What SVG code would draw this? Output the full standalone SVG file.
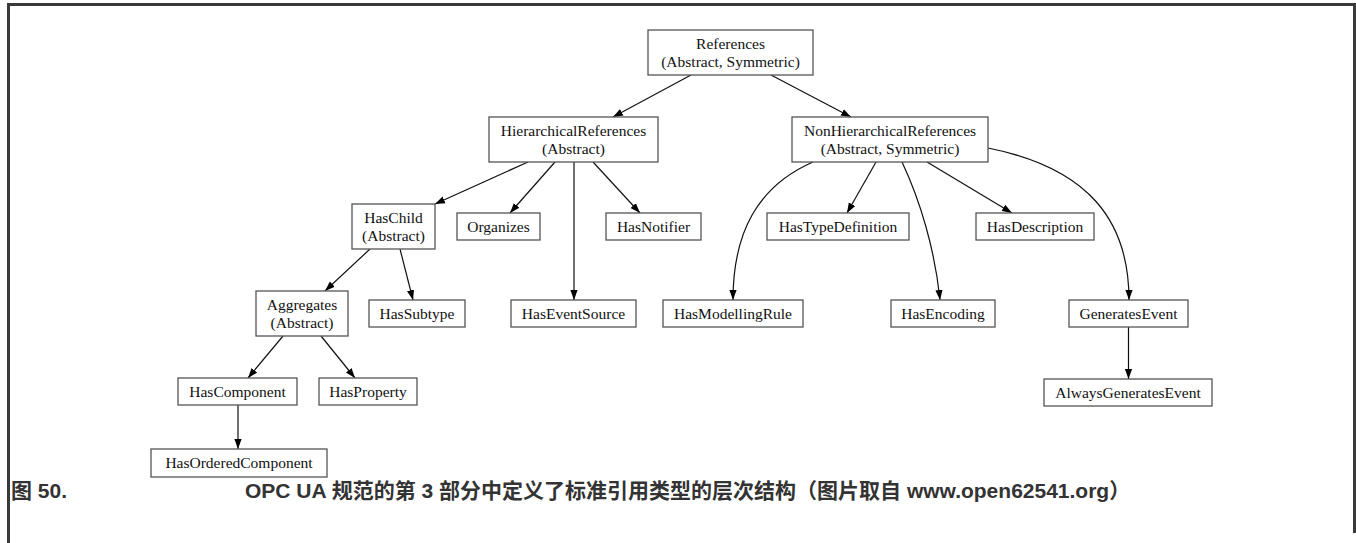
<svg xmlns="http://www.w3.org/2000/svg" width="1356" height="543" viewBox="0 0 1356 543">
  <style>
    .box { fill: #ffffff; stroke: #555555; stroke-width: 1.3; }
    .lbl { font-family: "Liberation Serif", "Times New Roman", serif; font-size: 15.5px; fill: #111111; text-anchor: middle; }
    .edge { fill: none; stroke: #111111; stroke-width: 1.2; marker-end: url(#arrow); }
    .frame { fill: none; stroke: #3a3a3a; stroke-width: 3; }
    .cap { font-family: "Liberation Sans", Arial, "Noto Sans CJK SC", sans-serif; font-size: 21px; font-weight: bold; fill: #333333; }
  </style>
  <defs>
    <marker id="arrow" markerUnits="userSpaceOnUse" markerWidth="11" markerHeight="8" refX="10" refY="4" orient="auto">
      <path d="M0,0.4 L10,4 L0,7.6 z" fill="#000000"/>
    </marker>
  </defs>

  <rect width="1356" height="543" fill="#ffffff"/>
  <!-- figure frame: open at the bottom -->
  <path class="frame" d="M8.5,543 V4.5 H1354.5 V533"/>

  <!-- connectors -->
  <g id="edges">
    <path class="edge" d="M691,75 L613,117"/>
    <path class="edge" d="M771,75 L851,117"/>
    <path class="edge" d="M528,162 L435,204"/>
    <path class="edge" d="M555,162 L510,213"/>
    <path class="edge" d="M574,162 L574,300"/>
    <path class="edge" d="M593,162 L640,213"/>
    <path class="edge" d="M813,162 C758,186 733,232 733,300"/>
    <path class="edge" d="M876,162 L847,213"/>
    <path class="edge" d="M902,162 C920,200 935,250 940,300"/>
    <path class="edge" d="M927,162 L1012,213"/>
    <path class="edge" d="M988,148 C1088,168 1129,220 1129,300"/>
    <path class="edge" d="M370,249 L325,291"/>
    <path class="edge" d="M400,249 L413,300"/>
    <path class="edge" d="M283,336 L248,378"/>
    <path class="edge" d="M321,336 L355,378"/>
    <path class="edge" d="M238,405 L238,449"/>
    <path class="edge" d="M1128.5,327 L1128.5,379"/>
  </g>

  <g id="References">
    <rect class="box" x="648" y="30" width="165" height="45"/>
    <text class="lbl" x="730.5" y="49">References</text>
    <text class="lbl" x="730.5" y="67">(Abstract, Symmetric)</text>
  </g>
  <g id="HierarchicalReferences">
    <rect class="box" x="489" y="117" width="169" height="45"/>
    <text class="lbl" x="573.5" y="136">HierarchicalReferences</text>
    <text class="lbl" x="573.5" y="154">(Abstract)</text>
  </g>
  <g id="NonHierarchicalReferences">
    <rect class="box" x="792" y="117" width="196" height="45"/>
    <text class="lbl" x="890" y="136">NonHierarchicalReferences</text>
    <text class="lbl" x="890" y="154">(Abstract, Symmetric)</text>
  </g>
  <g id="HasChild">
    <rect class="box" x="352" y="204" width="83" height="45"/>
    <text class="lbl" x="393.5" y="223">HasChild</text>
    <text class="lbl" x="393.5" y="241">(Abstract)</text>
  </g>
  <g id="Organizes">
    <rect class="box" x="457" y="213" width="83" height="27"/>
    <text class="lbl" x="498.5" y="231.5">Organizes</text>
  </g>
  <g id="HasNotifier">
    <rect class="box" x="606" y="213" width="95" height="27"/>
    <text class="lbl" x="653.5" y="231.5">HasNotifier</text>
  </g>
  <g id="HasTypeDefinition">
    <rect class="box" x="767" y="213" width="142" height="27"/>
    <text class="lbl" x="838" y="231.5">HasTypeDefinition</text>
  </g>
  <g id="HasDescription">
    <rect class="box" x="976" y="213" width="118" height="27"/>
    <text class="lbl" x="1035" y="231.5">HasDescription</text>
  </g>
  <g id="Aggregates">
    <rect class="box" x="256" y="291" width="92" height="45"/>
    <text class="lbl" x="302" y="310">Aggregates</text>
    <text class="lbl" x="302" y="328">(Abstract)</text>
  </g>
  <g id="HasSubtype">
    <rect class="box" x="369" y="300" width="96" height="27"/>
    <text class="lbl" x="417" y="318.5">HasSubtype</text>
  </g>
  <g id="HasEventSource">
    <rect class="box" x="511" y="300" width="125" height="27"/>
    <text class="lbl" x="573.5" y="318.5">HasEventSource</text>
  </g>
  <g id="HasModellingRule">
    <rect class="box" x="663" y="300" width="140" height="27"/>
    <text class="lbl" x="733" y="318.5">HasModellingRule</text>
  </g>
  <g id="HasEncoding">
    <rect class="box" x="891" y="300" width="104" height="27"/>
    <text class="lbl" x="943" y="318.5">HasEncoding</text>
  </g>
  <g id="GeneratesEvent">
    <rect class="box" x="1069" y="300" width="119" height="27"/>
    <text class="lbl" x="1128.5" y="318.5">GeneratesEvent</text>
  </g>
  <g id="HasComponent">
    <rect class="box" x="178" y="378" width="119" height="27"/>
    <text class="lbl" x="237.5" y="396.5">HasComponent</text>
  </g>
  <g id="HasProperty">
    <rect class="box" x="319" y="378" width="98" height="27"/>
    <text class="lbl" x="368" y="396.5">HasProperty</text>
  </g>
  <g id="HasOrderedComponent">
    <rect class="box" x="151" y="449" width="176" height="28"/>
    <text class="lbl" x="239" y="468">HasOrderedComponent</text>
  </g>
  <g id="AlwaysGeneratesEvent">
    <rect class="box" x="1044" y="379" width="168" height="27"/>
    <text class="lbl" x="1128" y="397.5">AlwaysGeneratesEvent</text>
  </g>

  <!-- caption -->
  <text class="cap" x="11" y="498">图 50.</text>
  <text class="cap" x="245" y="498">OPC UA 规范的第 3 部分中定义了标准引用类型的层次结构（图片取自 www.open62541.org）</text>
</svg>
